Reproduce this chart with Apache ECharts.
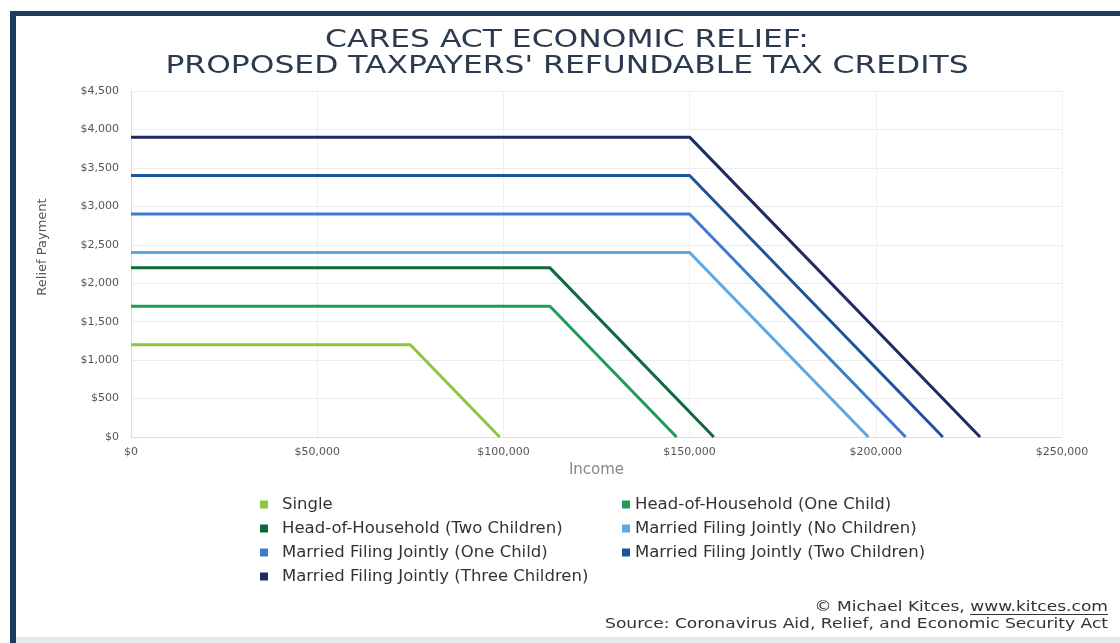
<!DOCTYPE html>
<html>
<head>
<meta charset="utf-8">
<script src="https://cdn.jsdelivr.net/npm/echarts@6/dist/echarts.min.js"></script>
<style>
html,body{margin:0;padding:0;background:#fff;}
#c{width:1120px;height:643px;}
</style>
</head>
<body>
<div id="c"></div>
<script>
const seriesNames = [
  'Single',
  'Head-of-Household (One Child)',
  'Head-of-Household (Two Children)',
  'Married Filing Jointly (No Children)',
  'Married Filing Jointly (One Child)',
  'Married Filing Jointly (Two Children)',
  'Married Filing Jointly (Three Children)'
];
const seriesColors = ['#8cc63f', '#1f9d55', '#11683a', '#5ba8e6', '#3d7bcc', '#1a559c', '#1f2b66'];
// [income, payment] points for each filing status
const singleData = [[0, 1200], [75000, 1200], [99000, 0]];
const hohOneData = [[0, 1700], [112500, 1700], [146500, 0]];
const hohTwoData = [[0, 2200], [112500, 2200], [156500, 0]];
const mfjNoneData = [[0, 2400], [150000, 2400], [198000, 0]];
const mfjOneData = [[0, 2900], [150000, 2900], [208000, 0]];
const mfjTwoData = [[0, 3400], [150000, 3400], [218000, 0]];
const mfjThreeData = [[0, 3900], [150000, 3900], [228000, 0]];
const allData = [singleData, hohOneData, hohTwoData, mfjNoneData, mfjOneData, mfjTwoData, mfjThreeData];

const titleLines = ['CARES ACT ECONOMIC RELIEF:', "PROPOSED TAXPAYERS' REFUNDABLE TAX CREDITS"];
const footerLine1 = '© Michael Kitces, ';
const footerUrl = 'www.kitces.com';
const footerLine2 = 'Source: Coronavirus Aid, Relief, and Economic Security Act';

const fmt = v => '$' + v.toLocaleString('en-US');
const FONT = 'DejaVu Sans';

// measure footer url to underline it
const mctx = document.createElement('canvas').getContext('2d');
mctx.font = '14px "DejaVu Sans"';
const FOOT_SCALE = 1.22;
const FOOT_RIGHT = 1108;
const urlW = mctx.measureText(footerUrl).width * FOOT_SCALE;

const chart = echarts.init(document.getElementById('c'));
const legendBase = {
  orient: 'vertical', top: 491, itemGap: 7,
  icon: 'rect', itemWidth: 8, itemHeight: 8
};
chart.setOption({
  backgroundColor: '#fff',
  animation: false,
  grid: {left: 131, right: 58, top: 91, bottom: 206},
  xAxis: {
    type: 'value', min: 0, max: 250000, interval: 50000,
    name: 'Income', nameLocation: 'middle', nameGap: 26,
    nameTextStyle: {fontFamily: FONT, fontSize: 15, color: '#888'},
    axisLine: {show: true, lineStyle: {color: '#ddd'}},
    axisTick: {show: false},
    axisLabel: {formatter: fmt, fontFamily: FONT, fontSize: 11, color: '#555', margin: 10},
    splitLine: {show: true, lineStyle: {color: '#f0f0f0'}}
  },
  yAxis: {
    type: 'value', min: 0, max: 4500, interval: 500,
    name: 'Relief Payment', nameLocation: 'middle', nameGap: 82,
    nameTextStyle: {fontFamily: FONT, fontSize: 13, color: '#555', padding: [0, 0, 0, 34]},
    axisLine: {show: true, lineStyle: {color: '#ddd'}},
    axisTick: {show: false},
    axisLabel: {formatter: fmt, fontFamily: FONT, fontSize: 11, color: '#555', margin: 12},
    splitLine: {show: true, lineStyle: {color: '#ececec'}}
  },
  legend: [
    Object.assign({}, legendBase, {
      left: 255,
      textStyle: {fontFamily: FONT, fontSize: 16.5, color: '#333', padding: [0, 0, 0, 9]},
      data: [seriesNames[0], seriesNames[2], seriesNames[4], seriesNames[6]]
    }),
    Object.assign({}, legendBase, {
      left: 617,
      textStyle: {fontFamily: FONT, fontSize: 16.5, color: '#333', padding: [0, 0, 0, 0]},
      data: [seriesNames[1], seriesNames[3], seriesNames[5]]
    })
  ],
  graphic: [
    {type: 'rect', shape: {x: 10, y: 11, width: 6, height: 632}, style: {fill: '#1e3a5f'}},
    {type: 'rect', shape: {x: 10, y: 11, width: 1110, height: 5}, style: {fill: '#1e3a5f'}},
    {type: 'rect', shape: {x: 16, y: 637, width: 1104, height: 6}, style: {fill: '#e6e9ec'}},
    {type: 'text', x: 567, y: 41, scaleX: 1.28,
      style: {text: titleLines[0], fontFamily: FONT, fontSize: 24.5, fill: '#2b3a4e', textAlign: 'center', textVerticalAlign: 'middle'}},
    {type: 'text', x: 567, y: 67, scaleX: 1.28,
      style: {text: titleLines[1], fontFamily: FONT, fontSize: 24.5, fill: '#2b3a4e', textAlign: 'center', textVerticalAlign: 'middle'}},
    {type: 'text', x: FOOT_RIGHT - urlW, y: 607, scaleX: FOOT_SCALE,
      style: {text: footerLine1, fontFamily: FONT, fontSize: 14, fill: '#333', textAlign: 'right', textVerticalAlign: 'middle'}},
    {type: 'text', x: FOOT_RIGHT, y: 607, scaleX: FOOT_SCALE,
      style: {text: footerUrl, fontFamily: FONT, fontSize: 14, fill: '#333', textAlign: 'right', textVerticalAlign: 'middle'}},
    {type: 'rect', shape: {x: FOOT_RIGHT - urlW, y: 614, width: urlW, height: 1}, style: {fill: '#333'}},
    {type: 'text', x: FOOT_RIGHT, y: 624, scaleX: FOOT_SCALE,
      style: {text: footerLine2, fontFamily: FONT, fontSize: 14, fill: '#333', textAlign: 'right', textVerticalAlign: 'middle'}}
  ],
  series: allData.map((d, i) => ({
    name: seriesNames[i],
    type: 'line',
    data: d,
    symbol: 'none',
    lineStyle: {width: 3, color: seriesColors[i]},
    itemStyle: {color: seriesColors[i]}
  }))
});
</script>
</body>
</html>
